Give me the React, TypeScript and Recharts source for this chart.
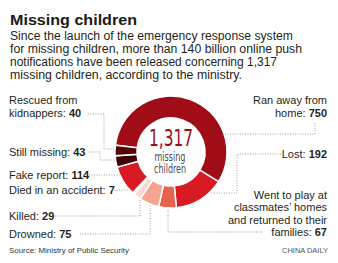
import React from 'react';
import { PieChart, Pie, Cell } from 'recharts';

// ---------- data ----------
const categories = [
  'Ran away from home',
  'Lost',
  "Went to play at classmates' homes and returned to their families",
  'Drowned',
  'Killed',
  'Died in an accident',
  'Fake report',
  'Still missing',
  'Rescued from kidnappers',
];
const values = [750, 192, 67, 75, 29, 7, 114, 43, 40];
const labelLines: string[][] = [
  ['Ran away from', 'home:'],
  ['Lost:'],
  ['Went to play at', 'classmates\u2019 homes', 'and returned to their', 'families:'],
  ['Drowned:'],
  ['Killed:'],
  ['Died in an accident:'],
  ['Fake report:'],
  ['Still missing:'],
  ['Rescued from', 'kidnappers:'],
];
const totalLabel = '1,317';
const centerLines = ['missing', 'children'];
const title = 'Missing children';
const subtitleLines = [
  'Since the launch of the emergency response system',
  'for missing children, more than 140 billion online push',
  'notifications have been released concerning 1,317',
  'missing children, according to the ministry.',
];
const sourceText = 'Source: Ministry of Public Security';
const creditText = 'CHINA DAILY';

// ---------- style / layout ----------
const colors = ['#a00d17', '#d81b23', '#e6644d', '#f5a491', '#fad6cd', '#fdeae5', '#d81b23', '#410205', '#540509'];
const TEXT = '#231f20';
const FONT = '"Liberation Sans", Arial, sans-serif';
const NARROW = '"Liberation Sans Narrow", "DejaVu Sans Condensed", "Liberation Sans", Arial, sans-serif';

type Layout = {
  anchor: 'start' | 'end';
  x: number;
  y: number;
  lh: number;
  start: [number, number];
  elbows: [number, number][];
  contact: 'h' | 'v';
};

const layouts: Layout[] = [
  { anchor: 'end', x: 327, y: 104, lh: 13, start: [315, 123], elbows: [[315, 134]], contact: 'h' },
  { anchor: 'end', x: 327, y: 158, lh: 12.5, start: [281, 154], elbows: [[237, 154], [237, 193]], contact: 'h' },
  { anchor: 'end', x: 327, y: 199, lh: 12.4, start: [262, 232], elbows: [[168, 232]], contact: 'v' },
  { anchor: 'start', x: 9, y: 238, lh: 12.5, start: [80, 234], elbows: [[150, 234]], contact: 'v' },
  { anchor: 'start', x: 9, y: 220, lh: 12.5, start: [55, 216], elbows: [[140, 216]], contact: 'v' },
  { anchor: 'start', x: 9, y: 194, lh: 12.5, start: [114, 190], elbows: [], contact: 'h' },
  { anchor: 'start', x: 9, y: 179, lh: 12.5, start: [89, 175], elbows: [], contact: 'h' },
  { anchor: 'start', x: 9, y: 156, lh: 12.5, start: [89, 152], elbows: [[100, 152], [100, 160]], contact: 'h' },
  { anchor: 'start', x: 9, y: 104, lh: 13, start: [88, 114], elbows: [[104, 114], [104, 149]], contact: 'h' },
];

const data = categories.map((name, i) => ({ name, value: values[i] }));

const renderLabel = (props: any) => {
  const { cx, cy, outerRadius, index } = props;
  const L = layouts[index];
  const lines = labelLines[index];
  const r = outerRadius + 0.5;
  const pts: [number, number][] = [L.start, ...L.elbows];
  const last = pts[pts.length - 1];
  let contact: [number, number];
  if (L.contact === 'h') {
    const dy = last[1] - cy;
    const dx = Math.sqrt(Math.max(r * r - dy * dy, 0));
    contact = [cx + (last[0] > cx ? dx : -dx), last[1]];
  } else {
    const dx = last[0] - cx;
    const dy = Math.sqrt(Math.max(r * r - dx * dx, 0));
    contact = [last[0], cy + (last[1] > cy ? dy : -dy)];
  }
  const all = [...pts, contact];
  const d = all.map((p, i) => `${i === 0 ? 'M' : 'L'}${p[0]},${p[1]}`).join(' ');
  return (
    <g key={`lbl-${index}`}>
      <path d={d} fill="none" stroke="#8a8a8a" strokeWidth={0.8} strokeDasharray="1 1.5" />
      <text x={L.x} y={L.y} textAnchor={L.anchor} fontFamily={FONT} fontSize={11} fill={TEXT}>
        {lines.map((ln, i) => (
          <tspan key={i} x={L.x} dy={i === 0 ? 0 : L.lh}>
            {ln}
            {i === lines.length - 1 ? (
              <tspan fontWeight="bold"> {values[index]}</tspan>
            ) : null}
          </tspan>
        ))}
      </text>
      {index === 0 ? (
        <text x={cx} y={cy - 6} textAnchor="middle" fontFamily={NARROW}>
          <tspan x={cx} y={cy - 6} fontSize={23} fill="#9b0c16" textLength={44} lengthAdjust="spacingAndGlyphs">
            {totalLabel}
          </tspan>
          <tspan x={cx - 1} y={cy + 8.5} fontSize={11.5} fill="#4a4a52" textLength={31} lengthAdjust="spacingAndGlyphs">
            {centerLines[0]}
          </tspan>
          <tspan x={cx - 1} y={cy + 21} fontSize={11.5} fill="#4a4a52" textLength={32} lengthAdjust="spacingAndGlyphs">
            {centerLines[1]}
          </tspan>
        </text>
      ) : null}
    </g>
  );
};

const subtitleWidths = [283, 292, 267, 232];
const subtitleBaselines = [40, 53, 66, 79];

export default function App() {
  return (
    <div style={{ position: 'absolute', left: 0, top: 0, width: 338, height: 263, background: '#fff' }}>
      <svg width={338} height={263} style={{ position: 'absolute', left: 0, top: 0 }}>
        <text x={10} y={25} fontFamily={FONT} fontWeight="bold" fontSize={15.5} fill="#1a1a1a" textLength={127} lengthAdjust="spacingAndGlyphs">
          {title}
        </text>
        {subtitleLines.map((s, i) => (
          <text key={i} x={10} y={subtitleBaselines[i]} fontFamily={FONT} fontSize={12} fill={TEXT} textLength={subtitleWidths[i]} lengthAdjust="spacingAndGlyphs">
            {s}
          </text>
        ))}
        <text x={9} y={253} fontFamily={FONT} fontSize={8} fill="#333" textLength={120} lengthAdjust="spacingAndGlyphs">
          {sourceText}
        </text>
        <text x={328} y={253} textAnchor="end" fontFamily={FONT} fontSize={8} fill="#555" textLength={46} lengthAdjust="spacingAndGlyphs">
          {creditText}
        </text>
      </svg>
      <div style={{ position: 'absolute', left: 0, top: 0 }}>
        <PieChart width={338} height={263} margin={{ top: 0, right: 0, bottom: 0, left: 0 }}>
          <Pie
            data={data}
            dataKey="value"
            nameKey="name"
            cx={171}
            cy={152}
            innerRadius={34}
            outerRadius={56}
            startAngle={173}
            endAngle={173 - 360}
            stroke="#ffffff"
            strokeWidth={1.5}
            label={renderLabel}
            labelLine={false}
            isAnimationActive={false}
          >
            {data.map((d, i) => (
              <Cell key={d.name} fill={colors[i]} />
            ))}
          </Pie>
        </PieChart>
      </div>
    </div>
  );
}
